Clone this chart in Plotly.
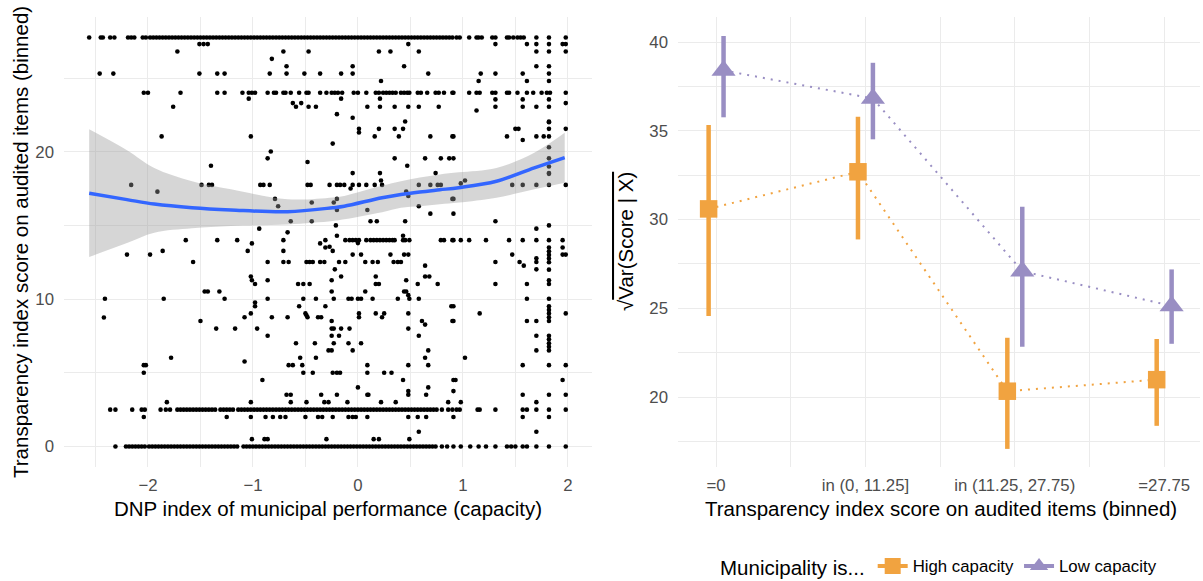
import plotly.graph_objects as go

# ---------------- data: left panel (scatter) ----------------
top_row_y = 27.75
top_row_x = [-2.56, -2.45, -2.43, -2.36, -2.32, -2.19, -2.16, -2.13, -2.05, -2.02, -1.98, -1.95, -1.92, -1.89,
             -1.86, -1.83, -1.80, -1.77, -1.74, -1.71, -1.68, -1.65, -1.62, -1.59, -1.56, -1.53, -1.50, -1.47,
             -1.44, -1.41, -1.38, -1.35, -1.32, -1.29, -1.26, -1.23, -1.20, -1.17, -1.14, -1.11, -1.08, -1.05,
             -1.02, -0.99, -0.96, -0.93, -0.90, -0.87, -0.84, -0.81, -0.78, -0.75, -0.72, -0.69, -0.66, -0.63,
             -0.60, -0.57, -0.54, -0.51, -0.48, -0.45, -0.42, -0.39, -0.36, -0.33, -0.30, -0.27, -0.24, -0.21,
             -0.18, -0.15, -0.12, -0.09, -0.06, -0.03, 0.00, 0.03, 0.06, 0.09, 0.12, 0.15, 0.18, 0.21, 0.24,
             0.27, 0.30, 0.33, 0.36, 0.39, 0.42, 0.45, 0.48, 0.51, 0.54, 0.57, 0.60, 0.63, 0.66, 0.69, 0.72,
             0.75, 0.78, 0.81, 0.84, 0.87, 0.90, 0.94, 0.97, 1.06, 1.13, 1.15, 1.18, 1.28, 1.31, 1.42, 1.44,
             1.48, 1.52, 1.55, 1.58, 1.70, 1.82, 1.98]

row24_y = 24.0
row24_x = [-2.04, -2.00, -1.69, -1.34, -1.27, -1.10, -1.04, -1.01, -0.98, -0.86, -0.80, -0.78, -0.71, -0.69,
           -0.64, -0.56, -0.49, -0.47, -0.36, -0.30, -0.25, -0.22, -0.19, -0.15, -0.04, 0.00, 0.08, 0.17, 0.20,
           0.24, 0.27, 0.30, 0.33, 0.36, 0.41, 0.44, 0.47, 0.49, 0.57, 0.60, 0.66, 0.74, 0.77, 0.82, 0.90, 0.91,
           1.06, 1.13, 1.16, 1.28, 1.31, 1.42, 1.44, 1.52, 1.61, 1.67, 1.75, 1.80, 1.83, 1.98]

row17_y = 17.75
row17_x = [-2.16, -1.49, -1.42, -1.39, -0.93, -0.90, -0.84, -0.48, -0.45, -0.27, -0.20, -0.17, -0.13, -0.05,
           0.01, 0.08, 0.16, 0.23, 0.58, 0.69, 0.76, 0.79, 1.47, 1.57, 1.70, 1.82, 1.98]

row14_y = 14.0
row14_x = [-1.64, -1.34, -1.15, -0.71, -0.31, -0.12, -0.08, -0.05, -0.02, 0.01, 0.08, 0.12, 0.15, 0.18, 0.21,
           0.24, 0.27, 0.30, 0.33, 0.35, 0.43, 0.45, 0.49, 0.79, 0.82, 0.90, 0.91, 0.98, 1.06, 1.22, 1.44, 1.57,
           1.70, 1.82, 1.95]

row2_5_y = 2.5
row2_5_x = [-2.36, -2.31, -2.15, -2.06, -2.03, -1.88, -1.83, -1.79, -1.72, -1.69, -1.66, -1.63, -1.60, -1.57,
            -1.54, -1.51, -1.48, -1.45, -1.42, -1.39, -1.36, -1.31, -1.28, -1.25, -1.22, -1.19, -1.14, -1.11,
            -1.08, -1.05, -1.02, -0.99, -0.96, -0.93, -0.90, -0.87, -0.84, -0.81, -0.78, -0.75, -0.72, -0.69,
            -0.66, -0.63, -0.60, -0.57, -0.54, -0.51, -0.48, -0.45, -0.42, -0.39, -0.36, -0.33, -0.30, -0.27,
            -0.24, -0.21, -0.18, -0.15, -0.12, -0.09, -0.06, -0.03, 0.00, 0.03, 0.06, 0.09, 0.12, 0.15, 0.18,
            0.21, 0.24, 0.27, 0.30, 0.33, 0.36, 0.39, 0.42, 0.45, 0.48, 0.51, 0.54, 0.57, 0.60, 0.63, 0.66,
            0.69, 0.72, 0.75, 0.80, 0.86, 0.90, 0.94, 0.97, 1.14, 1.16, 1.31, 1.57, 1.61, 1.70, 1.82, 1.98]

row0_y = 0.0
row0_x = [-2.31, -2.21, -2.18, -2.15, -2.12, -2.09, -2.06, -2.03, -1.99, -1.96, -1.93, -1.90, -1.87, -1.84,
          -1.81, -1.78, -1.75, -1.72, -1.69, -1.66, -1.63, -1.60, -1.57, -1.54, -1.51, -1.48, -1.45, -1.42,
          -1.39, -1.36, -1.33, -1.30, -1.27, -1.24, -1.21, -1.18, -1.15, -1.09, -1.06, -1.03, -1.00, -0.97,
          -0.94, -0.91, -0.88, -0.85, -0.82, -0.79, -0.76, -0.73, -0.70, -0.67, -0.64, -0.61, -0.58, -0.55,
          -0.52, -0.49, -0.46, -0.43, -0.40, -0.37, -0.34, -0.31, -0.28, -0.25, -0.22, -0.19, -0.16, -0.13,
          -0.10, -0.07, -0.04, -0.01, 0.02, 0.05, 0.08, 0.11, 0.14, 0.17, 0.20, 0.23, 0.26, 0.29, 0.32, 0.35,
          0.38, 0.41, 0.44, 0.47, 0.50, 0.53, 0.56, 0.59, 0.62, 0.65, 0.68, 0.71, 0.74, 0.80, 0.85, 0.91,
          0.98, 1.07, 1.15, 1.22, 1.31, 1.42, 1.46, 1.50, 1.57, 1.61, 1.70, 1.82, 1.98]

other_x = [
    -1.51, -1.47, -1.72, -2.46, -2.33, -1.51, -1.76, -1.87, -1.91,
    -1.43, -0.71, -0.47, -0.82, -0.68, -1.34, -1.27, -0.84, -0.68, -0.51, -0.36, -1.04, -0.62, -0.54, -0.59,
    -0.47, -0.40, -1.02, -0.83, -0.86, -0.48, -1.40, -0.79, -0.44, -0.76, -0.64, -0.44, -0.94, -0.67, -1.01, -0.36,
    0.48, 0.20, 0.31, 0.58, -0.05, 0.44, -0.16, -0.05, 0.67, 0.22, -0.16, 0.21, 0.09, 0.21, 0.35, 0.48, 0.58,
    0.77, -0.20, -0.05, 0.45, 0.01, 0.20, 0.35, 0.43, 0.01, 0.16, 0.39, 0.69, 0.90, -0.24, 0.35, 0.64, 0.79,
    0.87, 0.47, -0.05, 0.21, 0.74, 0.22, -0.07, 0.46, 0.48, -0.20, 0.90, -0.23, 0.58, -0.20, 0.09, 0.69, 0.12,
    0.18, 0.45, -0.21, -0.20, 0.43, 0.00,
    1.31, 1.61, 1.70, 1.82, 1.95, 1.98, 1.70, 1.82, 1.98, 1.70, 1.82, 1.17, 1.31, 1.57, 1.82, 1.15, 1.61, 1.82,
    1.31, 1.57, 1.82, 1.98, 1.31, 1.57, 1.70, 1.82, 1.13, 1.82, 1.50, 1.53, 1.82, 1.98, 0.91, 1.42, 1.70, 1.77,
    1.82, 1.57, 1.82, 0.91, 1.82, 1.82, 1.02, 0.98, 0.91, 0.91, 1.31, 1.70, 1.82, 1.82, 1.95, 1.82, 1.82, 1.82,
    -1.86, -2.20, -1.98, -1.57, -1.46, -2.41, -1.85, -2.42, -1.50, -1.78, -2.04, -2.02, -2.04, -1.82, -2.04,
    -1.05, -0.71, -0.31, -0.27, -0.86, -0.71, -0.66, -0.49, -0.46, -0.43, -0.36, -0.32, -1.02, -1.01, -0.86,
    -0.98, -0.57, -0.52, -0.46, -1.43, -1.32, -1.27, -0.86, -0.52, -0.40, -0.98, -0.98, -0.56, -0.31, -1.02,
    -0.50, -0.49, -1.08, -0.82, -0.67, -0.48, -0.38, -0.35, -1.35, -1.17, -0.96, -0.86, -0.59, -0.41, -0.28,
    -0.55, -0.40, -1.08, -0.66, -0.62, -0.53, -0.52, -0.43, -0.91, -0.68, -0.64, -0.35, -1.02, -0.64, -0.49,
    -0.32, -0.28, -1.25, -1.02, -0.88, -0.81, -0.74, -0.69, -0.50, -0.38, -0.34, -1.01, -0.89, -0.86, -0.30,
    -0.24, -0.05, 0.03, 0.31, 0.44, 0.48, -0.18, -0.12, 0.07, 0.14, 0.19, 0.34, 0.38, 0.41, 0.64, -0.22, -0.16,
    0.17, 0.64, 0.68, -0.25, 0.46, 0.17, 0.20, 0.57, 0.76, -0.25, 0.07, 0.44, 0.46, 0.48, -0.23, -0.09, -0.06,
    0.00, 0.03, 0.14, 0.38, 0.49, 0.58, 0.89, 0.01, 0.17, 0.25, 0.48, 0.01, 0.23, -0.25, 0.61, 0.90, 0.64,
    -0.25, -0.23, -0.16, -0.08, 0.48, -0.25, -0.18, 0.58, -0.23, -0.09, 0.03, -0.25, -0.05, 0.67, 0.64, 0.09,
    0.48, 0.67, -0.24, -0.20, -0.17, 0.09, 0.25, 0.32, 0.43, 0.91, 0.00, 0.67, 0.48, -0.20, 0.09, 0.10, 0.48,
    0.65, -0.10, 0.22, 0.36, 0.86, -0.24, -0.09, -0.05, -0.02, 0.09, 0.48, 0.57, 0.65, 0.58, 0.15, 0.20, 0.49,
    1.82, 1.82, 1.82, 1.82, 1.82, 1.82, 1.82, 1.82, 1.82, 1.82, 1.82, 1.82, 1.82, 1.82, 1.82, 1.82, 1.82, 1.82,
    1.82, 1.82, 1.82,
    1.95, 1.98, 1.47, 1.70, 1.31, 1.54, 1.70, 1.58, 1.70, 1.31, 1.61, 1.61, 0.91, 1.16, 1.98, 0.91, 1.61, 1.70,
    1.70, 1.70, 1.02, 1.57, 1.98, 0.93, 1.95, 0.91, 1.57, 1.98, 0.98, 1.70, 0.91, 1.57, 1.70,
]
other_y = [
    27.3, 27.3, 26.8, 25.3, 25.3, 25.3, 23.05, 21.04, 17.29,
    27.3, 26.8, 26.8, 26.3, 25.8, 25.3, 25.3, 25.3, 25.3, 25.3, 25.3, 23.6, 23.3, 23.3, 23.05,
    23.05, 23.05, 21.04, 20.02, 19.55, 19.3, 19.05, 16.8, 16.55, 16.3, 15.28, 15.28, 14.78, 14.53, 13.78, 13.78,
    27.3, 26.8, 26.8, 26.8, 25.8, 25.8, 25.3, 25.3, 25.3, 24.8, 23.6, 23.6, 23.05, 23.05, 23.05, 23.05, 23.05,
    23.05, 22.55, 22.3, 22.05, 21.55, 21.55, 21.55, 21.55, 21.3, 21.04, 21.04, 21.04, 21.04, 20.55, 19.55, 19.55, 19.55,
    19.55, 19.05, 18.55, 18.55, 18.55, 18.05, 17.5, 17.3, 17.0, 16.8, 16.8, 16.55, 16.3, 16.05, 16.05, 15.8, 15.28,
    15.28, 15.28, 15.0, 14.3, 14.3, 13.8,
    27.3, 27.3, 27.3, 27.3, 27.3, 27.3, 26.8, 26.8, 26.8, 25.8, 25.8, 25.3, 25.3, 25.3, 25.3, 24.8, 24.8, 24.8,
    23.55, 23.55, 23.55, 23.3, 23.05, 23.05, 23.05, 23.05, 22.8, 22.05, 21.55, 21.55, 21.55, 21.55, 21.04, 21.04, 21.04, 21.04,
    21.04, 20.8, 20.3, 19.55, 19.55, 18.55, 18.05, 17.85, 16.8, 15.8, 15.28, 14.78, 15.0, 13.5, 13.5, 22.0, 19.0, 18.5,
    13.27, 13.02, 13.02, 12.52, 10.52, 10.02, 10.02, 8.75, 8.52, 6.02, 5.52, 5.52, 5.0, 3.01, 2.0,
    13.27, 13.27, 13.5, 13.55, 12.52, 12.52, 12.52, 12.52, 12.52, 12.52, 12.52, 12.52, 11.53, 11.28, 11.28,
    11.03, 11.03, 11.03, 11.03, 10.52, 10.52, 10.02, 10.02, 10.02, 10.02, 9.77, 9.52, 9.52, 9.52, 9.03,
    9.03, 8.9, 8.77, 8.77, 8.77, 8.77, 8.77, 8.77, 8.0, 8.0, 8.0, 7.51, 7.01, 7.01, 6.52,
    6.02, 6.02, 5.77, 5.52, 5.52, 5.52, 5.0, 5.0, 4.51, 3.51, 3.51, 3.51, 3.01, 3.01, 3.01,
    3.01, 3.01, 2.0, 2.0, 2.0, 2.0, 2.0, 2.0, 2.0, 2.0, 2.0, 0.5, 0.5, 0.5, 0.5,
    13.27, 13.02, 13.02, 13.02, 13.02, 13.02, 12.52, 12.52, 12.52, 12.52, 12.52, 12.52, 12.52, 12.52, 12.27, 12.02, 11.53,
    11.53, 11.53, 11.53, 11.28, 11.28, 11.03, 11.03, 11.03, 11.03, 10.52, 10.52, 10.52, 10.52, 10.27, 10.02, 10.02, 10.02,
    10.02, 10.02, 10.02, 10.02, 10.02, 10.02, 9.52, 9.03, 9.03, 9.03, 9.03, 8.77, 8.77, 8.52, 8.52, 8.52, 8.27,
    8.0, 8.0, 8.0, 8.0, 8.0, 7.51, 7.51, 7.51, 7.01, 7.01, 7.01, 6.52, 6.52, 6.52, 6.02, 5.52,
    5.52, 5.52, 5.0, 5.0, 5.0, 5.0, 5.0, 5.0, 4.51, 4.51, 4.01, 4.01, 3.76, 3.51, 3.51, 3.51, 3.51,
    3.51, 3.01, 3.01, 3.01, 3.01, 2.0, 2.0, 2.0, 2.0, 2.0, 2.0, 2.0, 2.0, 1.0, 0.5, 0.5, 0.5,
    13.25, 13.0, 12.75, 12.5, 12.0, 11.28, 11.03, 10.02, 9.52, 9.27, 9.03, 8.77, 8.52, 7.51, 7.27, 7.01, 6.77, 6.52,
    5.52, 3.51, 2.0,
    13.02, 13.02, 13.02, 12.77, 12.52, 12.52, 12.52, 12.27, 12.02, 11.03, 11.03, 10.02, 9.52, 9.03, 9.03, 8.52, 8.52, 8.52,
    7.51, 6.52, 6.02, 5.52, 5.52, 4.51, 4.51, 3.76, 3.51, 3.51, 3.01, 3.01, 2.0, 2.0, 1.0,
]

# loess fit and 95% band
smooth_x = [-2.56, -2.20, -1.94, -1.58, -1.21, -0.67, -0.24, -0.13, 0.23, 0.41, 0.59, 0.78, 0.96, 1.32, 1.68, 1.97]
smooth_fit = [17.18, 16.75, 16.45, 16.20, 16.05, 15.93, 16.20, 16.30, 16.88, 17.10, 17.27, 17.42, 17.56, 18.00, 18.90, 19.60]
smooth_lo = [12.86, 13.80, 14.50, 14.80, 14.96, 15.07, 15.30, 15.42, 15.90, 16.20, 16.30, 16.44, 16.55, 16.88, 17.45, 17.90]
smooth_hi = [21.52, 20.10, 18.90, 18.00, 17.45, 16.77, 16.90, 17.00, 17.70, 18.00, 18.25, 18.46, 18.60, 18.90, 19.93, 21.28]

# ---------------- data: right panel ----------------
bins = ["=0", "in (0, 11.25]", "in (11.25, 27.75)", "=27.75"]
high_mid = [30.60, 32.69, 20.33, 20.98]
high_lo = [24.56, 28.88, 17.08, 18.38]
high_hi = [35.32, 35.79, 23.34, 23.27]
low_mid = [38.40, 36.82, 27.09, 25.13]
low_lo = [35.76, 34.52, 22.83, 23.00]
low_hi = [40.34, 38.83, 30.72, 27.19]

ORANGE = "#F1A340"
PURPLE = "#998EC3"
FONT = "Liberation Sans, Arial, sans-serif"
W, H = 1203, 581


def px_x(p):
    return p / W


def px_y(p):
    return 1 - p / H


fig = go.Figure()

# scatter points
rows = [(top_row_x, top_row_y), (row24_x, row24_y), (row17_x, row17_y), (row14_x, row14_y),
        (row2_5_x, row2_5_y), (row0_x, row0_y)]
sx, sy = [], []
for xs, yv in rows:
    sx += xs
    sy += [yv] * len(xs)
sx += other_x
sy += other_y
fig.add_trace(go.Scatter(x=sx, y=sy, mode="markers", marker=dict(color="black", size=4.6, line=dict(width=0)),
                         showlegend=False, xaxis="x", yaxis="y", hoverinfo="skip"))

# confidence band
fig.add_trace(go.Scatter(x=smooth_x, y=smooth_lo, mode="lines", line=dict(width=0, shape="spline"),
                         showlegend=False, xaxis="x", yaxis="y", hoverinfo="skip"))
fig.add_trace(go.Scatter(x=smooth_x, y=smooth_hi, mode="lines", line=dict(width=0, shape="spline"),
                         fill="tonexty", fillcolor="rgba(153,153,153,0.4)",
                         showlegend=False, xaxis="x", yaxis="y", hoverinfo="skip"))
fig.add_trace(go.Scatter(x=smooth_x, y=smooth_fit, mode="lines", line=dict(color="#3366FF", width=3.5, shape="spline"),
                         showlegend=False, xaxis="x", yaxis="y", hoverinfo="skip"))

# right panel
dodge = 0.05
for mids, los, his, col, sym, size, off in [
    (high_mid, high_lo, high_hi, ORANGE, "square", 17.5, -dodge),
    (low_mid, low_lo, low_hi, PURPLE, "triangle-up", 21, dodge),
]:
    xs = [i + 1 + off for i in range(len(mids))]
    fig.add_trace(go.Scatter(x=xs, y=mids, mode="lines", line=dict(color=col, width=2, dash="2px,6px"),
                             showlegend=False, xaxis="x2", yaxis="y2", hoverinfo="skip"))
    fig.add_trace(go.Scatter(
        x=xs, y=mids, mode="markers",
        marker=dict(color=col, symbol=sym, size=size, line=dict(width=0)),
        error_y=dict(type="data", symmetric=False,
                     array=[h - m for h, m in zip(his, mids)],
                     arrayminus=[m - l for m, l in zip(mids, los)],
                     color=col, thickness=4.5, width=0),
        showlegend=False, xaxis="x2", yaxis="y2", hoverinfo="skip"))

# legend-only traces
fig.add_trace(go.Scatter(x=[None], y=[None], mode="lines+markers", name="High capacity",
                         line=dict(color=ORANGE, width=4), marker=dict(color=ORANGE, symbol="square", size=17),
                         xaxis="x2", yaxis="y2", legendrank=1))
fig.add_trace(go.Scatter(x=[None], y=[None], mode="lines+markers", name="Low capacity",
                         line=dict(color=PURPLE, width=4), marker=dict(color=PURPLE, symbol="triangle-up", size=21),
                         xaxis="x2", yaxis="y2", legendrank=2))

GRID = "#EBEBEB"
TICKFONT = dict(family=FONT, size=16.8, color="#4D4D4D")
common = dict(showgrid=True, gridcolor=GRID, gridwidth=1.4, zeroline=False, showline=False, ticks="",
              tickfont=TICKFONT, tickmode="array")

top_px, bot_px = 17, 467
ydom = [px_y(bot_px), px_y(top_px)]

fig.update_layout(
    width=W, height=H,
    margin=dict(l=0, r=0, t=0, b=0, autoexpand=False),
    paper_bgcolor="white", plot_bgcolor="white",
    font=dict(family=FONT, color="black"),
    xaxis=dict(domain=[px_x(64), px_x(592)], range=[-2.80, 2.23], tickvals=[-2, -1, 0, 1, 2],
               ticktext=["\u22122", "\u22121", "0", "1", "2"], ticklabelstandoff=6,
               minor=dict(tickmode="array", tickvals=[-2.5, -1.5, -0.5, 0.5, 1.5], showgrid=True,
                          gridcolor=GRID, gridwidth=0.7, ticks=""),
               anchor="y", **common),
    yaxis=dict(domain=ydom, range=[-1.39, 29.14], tickvals=[0, 10, 20], ticktext=["0", "10", "20"],
               ticklabelstandoff=9,
               minor=dict(tickmode="array", tickvals=[5, 15, 25], showgrid=True, gridcolor=GRID,
                          gridwidth=0.7, ticks=""),
               anchor="x", **common),
    xaxis2=dict(domain=[px_x(678), px_x(1200)], range=[0.745, 4.24], tickvals=[1, 2, 3, 4], ticktext=bins,
                ticklabelstandoff=6,
                minor=dict(tickmode="array", tickvals=[1.5, 2.5, 3.5], showgrid=True, gridcolor=GRID,
                           gridwidth=0.7, ticks=""),
                anchor="y2", **common),
    yaxis2=dict(domain=ydom, range=[16.06, 41.41], tickvals=[20, 25, 30, 35, 40],
                ticktext=["20", "25", "30", "35", "40"], ticklabelstandoff=9,
                minor=dict(tickmode="array", tickvals=[17.5, 22.5, 27.5, 32.5, 37.5], showgrid=True,
                           gridcolor=GRID, gridwidth=0.7, ticks=""),
                anchor="x2", **common),
    legend=dict(orientation="h", x=px_x(940), xanchor="center", y=px_y(567), yanchor="middle",
                traceorder="normal",
                title=dict(text="Municipality is...", font=dict(family=FONT, size=20.5, color="black"), side="left"),
                font=dict(family=FONT, size=16.8, color="black"), bgcolor="rgba(0,0,0,0)", itemwidth=30),
    showlegend=True,
)

TITLEFONT = dict(family=FONT, size=20.5, color="black")
annots = [
    dict(text="DNP index of municipal performance (capacity)", x=px_x(328), y=px_y(508)),
    dict(text="Transparency index score on audited items (binned)", x=px_x(941), y=px_y(508)),
    dict(text="Transparency index score on audited items (binned)", x=px_x(20), y=px_y(242), textangle=-90),
    dict(text="\u221a<span style='text-decoration:overline'>Var(Score | X)</span>", x=px_x(625), y=px_y(242),
         textangle=-90),
]
for a in annots:
    fig.add_annotation(xref="paper", yref="paper", showarrow=False, xanchor="center", yanchor="middle",
                       font=TITLEFONT, **a)

fig.write_html("out.html")
